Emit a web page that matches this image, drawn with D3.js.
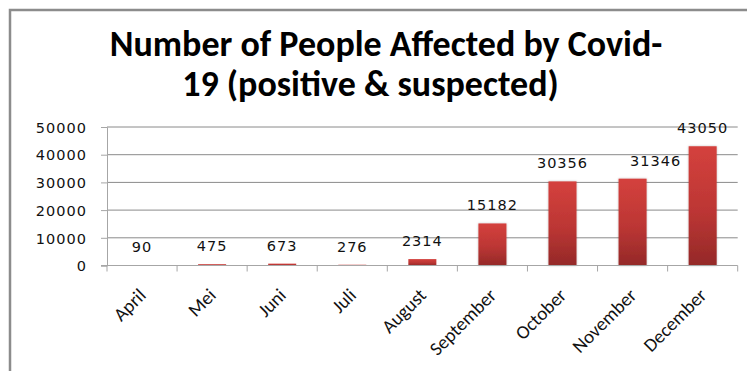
<!DOCTYPE html>
<html>
<head>
<meta charset="utf-8">
<script src="https://cdn.jsdelivr.net/npm/d3@7"></script>
<style>
  body { margin: 0; background: #fff; }
  svg { display: block; }
</style>
</head>
<body>
<svg id="chart" width="747" height="371"></svg>
<script>

const months = ['April', 'Mei', 'Juni', 'Juli', 'August', 'September', 'October', 'November', 'December'];
const affected = [90, 475, 673, 276, 2314, 15182, 30356, 31346, 43050];
const yTicks = [0, 10000, 20000, 30000, 40000, 50000];
const titleLines = ['Number of People Affected by Covid-', '19 (positive & suspected)'];

const svg = d3.select('#chart');
const W = 747, H = 371;
const plot = { left: 107, right: 737.7, top: 127, bottom: 265.5 };

// frame (cropped on the right and bottom in the original)
svg.append('path')
  .attr('d', `M10,${H + 2} V10 H${W + 2}`)
  .attr('fill', 'none')
  .attr('stroke', '#8c8c8c')
  .attr('stroke-width', 2.5);

// title, each wrapped line centred on its own like Excel does
const titleX = [386, 370.5];
svg.append('g')
  .selectAll('text')
  .data(titleLines)
  .join('text')
  .attr('text-anchor', 'middle')
  .attr('x', (d, i) => titleX[i])
  .attr('y', (d, i) => 56 + i * 40)
  .style('font-family', 'Carlito, Calibri, Lato, sans-serif')
  .style('font-weight', 'bold')
  .style('font-size', '36px')
  .attr('fill', '#000')
  .text(d => d);

const x = d3.scaleBand().domain(months).range([plot.left, plot.right]).paddingInner(0.6).paddingOuter(0.3);
const y = d3.scaleLinear().domain([0, 50000]).range([plot.bottom, plot.top]);

const defs = svg.append('defs');
const grad = defs.append('linearGradient').attr('id', 'barFill').attr('x1', 0).attr('y1', 0).attr('x2', 0).attr('y2', 1);
grad.append('stop').attr('offset', '0%').attr('stop-color', '#d4413d');
grad.append('stop').attr('offset', '55%').attr('stop-color', '#bc3634');
grad.append('stop').attr('offset', '100%').attr('stop-color', '#942928');
const shadow = defs.append('filter').attr('id', 'shadow').attr('x', '-30%').attr('y', '-10%').attr('width', '160%').attr('height', '130%');
shadow.append('feDropShadow').attr('dx', 0).attr('dy', 0).attr('stdDeviation', 1.2).attr('flood-color', '#000').attr('flood-opacity', 0.25);

// gridlines
svg.append('g')
  .selectAll('line')
  .data(yTicks.filter(d => d > 0))
  .join('line')
  .attr('x1', plot.left).attr('x2', plot.right)
  .attr('y1', d => y(d)).attr('y2', d => y(d))
  .attr('stroke', '#8a8a8a').attr('stroke-width', 1);

const numFont = sel => sel
  .style('font-family', '"DejaVu Sans", Verdana, sans-serif')
  .style('font-size', '14.5px')
  .style('letter-spacing', '1px')
  .attr('fill', '#111');

// y axis
const yAxis = svg.append('g')
  .attr('transform', `translate(${plot.left},0)`)
  .call(d3.axisLeft(y).tickValues(yTicks).tickSize(6).tickPadding(14).tickFormat(d3.format('d')));
yAxis.select('.domain').attr('stroke', '#a6a6a6');
yAxis.selectAll('.tick line').attr('stroke', '#a6a6a6');
yAxis.selectAll('.tick text').call(numFont).attr('dy', '0.36em');

// bars
svg.append('g')
  .selectAll('rect')
  .data(affected)
  .join('rect')
  .attr('x', (d, i) => x(months[i]))
  .attr('width', x.bandwidth())
  .attr('y', d => y(d))
  .attr('height', d => y(0) - y(d))
  .attr('fill', 'url(#barFill)')
  .attr('filter', d => d > 5000 ? 'url(#shadow)' : null);

// x axis with ticks on category boundaries
const xAxis = svg.append('g').attr('transform', `translate(0,${plot.bottom})`);
xAxis.append('line')
  .attr('x1', plot.left - 6).attr('x2', plot.right)
  .attr('stroke', '#a6a6a6');
xAxis.selectAll('line.tk')
  .data(d3.range(months.length + 1))
  .join('line')
  .attr('class', 'tk')
  .attr('x1', i => plot.left + i * (plot.right - plot.left) / months.length)
  .attr('x2', i => plot.left + i * (plot.right - plot.left) / months.length)
  .attr('y1', 0).attr('y2', 6)
  .attr('stroke', '#a6a6a6');
xAxis.selectAll('text')
  .data(months)
  .join('text')
  .attr('text-anchor', 'end')
  .attr('transform', d => `translate(${x(d) + x.bandwidth() / 2 + 5},${31}) rotate(-45)`)
  .style('font-family', 'Carlito, Calibri, Lato, sans-serif')
  .style('font-size', '19px')
  .attr('fill', '#111')
  .text(d => d);

// value labels (Excel nudged November's to the right)
const labelShift = { November: 23 };
svg.append('g')
  .selectAll('text')
  .data(affected)
  .join('text')
  .attr('text-anchor', 'middle')
  .attr('x', (d, i) => x(months[i]) + x.bandwidth() / 2 + (labelShift[months[i]] || 0))
  .attr('y', d => y(d) - 13)
  .call(numFont)
  .text(d => d);

</script>
</body>
</html>
